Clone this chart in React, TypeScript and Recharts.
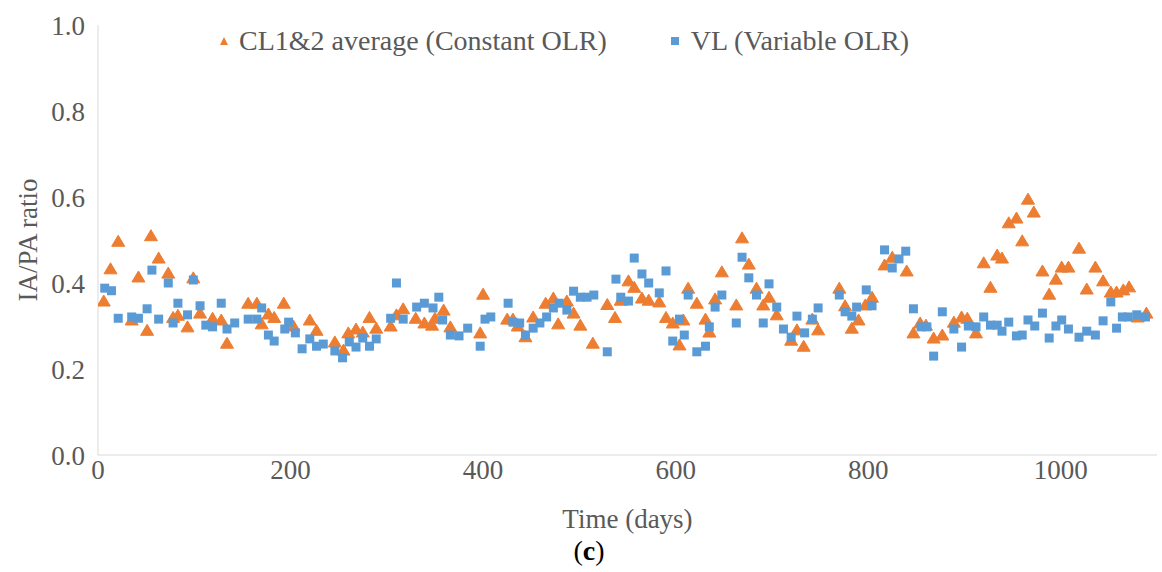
import { Label, Scatter, ScatterChart, XAxis, YAxis } from 'recharts'

const ORANGE = '#ED7D31'
const BLUE = '#5B9BD5'
const TEXT = '#595959'
const FONT = '"Liberation Serif", "Times New Roman", serif'

// CL1&2 average (Constant OLR)
const clDays = [
  6, 13, 21, 35, 42, 51, 55, 63, 73, 78, 83, 93, 99, 106, 119, 128, 134, 156, 165, 170,
  177, 183, 193, 203, 220, 227, 246, 255, 260, 268, 275, 282, 289, 304, 310, 317, 330, 339, 347, 350,
  359, 366, 397, 400, 425, 431, 436, 444, 452, 465, 473, 478, 487, 494, 501, 514, 529, 537, 543, 551,
  557, 565, 572, 583, 590, 597, 604, 608, 613, 622, 631, 635, 641, 648, 663, 669, 676, 684, 691, 697,
  705, 720, 726, 733, 742, 748, 770, 776, 783, 790, 797, 804, 817, 825, 840, 847, 854, 860, 868, 877,
  889, 897, 903, 912, 920, 927, 934, 939, 946, 954, 960, 966, 972, 981, 988, 995, 1001, 1008, 1019, 1027,
  1036, 1044, 1052, 1058, 1065, 1071, 1080, 1089,
]
const clRatio = [
  0.358, 0.433, 0.497, 0.314, 0.414, 0.29, 0.51, 0.458, 0.423, 0.32, 0.325, 0.298, 0.412, 0.33, 0.318, 0.314, 0.26, 0.353, 0.353, 0.305,
  0.328, 0.32, 0.353, 0.3, 0.314, 0.29, 0.263, 0.244, 0.284, 0.293, 0.286, 0.32, 0.295, 0.3, 0.326, 0.34, 0.318, 0.307, 0.302, 0.318,
  0.337, 0.298, 0.284, 0.374, 0.316, 0.316, 0.3, 0.275, 0.321, 0.353, 0.365, 0.305, 0.358, 0.33, 0.302, 0.26, 0.35, 0.32, 0.36, 0.405,
  0.39, 0.365, 0.36, 0.356, 0.32, 0.307, 0.256, 0.314, 0.388, 0.353, 0.316, 0.286, 0.363, 0.426, 0.349, 0.505, 0.444, 0.388, 0.349, 0.367,
  0.326, 0.267, 0.291, 0.253, 0.316, 0.291, 0.388, 0.347, 0.295, 0.314, 0.349, 0.367, 0.442, 0.46, 0.428, 0.284, 0.307, 0.302, 0.272, 0.279,
  0.309, 0.321, 0.318, 0.284, 0.447, 0.39, 0.465, 0.458, 0.54, 0.551, 0.498, 0.595, 0.565, 0.428, 0.374, 0.409, 0.437, 0.437, 0.481, 0.386,
  0.437, 0.405, 0.379, 0.379, 0.384, 0.391, 0.321, 0.33,
]

// VL (Variable OLR)
const vlDays = [
  7, 14, 21, 35, 42, 51, 56, 63, 73, 78, 83, 93, 99, 106, 112, 119, 128, 134, 142, 156,
  165, 170, 177, 183, 194, 198, 205, 212, 220, 227, 234, 246, 254, 261, 268, 275, 282, 289, 304, 310,
  317, 331, 339, 348, 354, 358, 366, 375, 384, 397, 402, 408, 426, 431, 438, 444, 452, 459, 466, 473,
  479, 487, 494, 501, 508, 515, 529, 538, 543, 551, 557, 565, 572, 583, 590, 597, 604, 609, 613, 622,
  631, 635, 641, 648, 663, 669, 676, 684, 691, 697, 705, 712, 720, 726, 734, 742, 748, 770, 776, 783,
  788, 798, 804, 817, 825, 832, 839, 847, 855, 861, 868, 877, 889, 897, 904, 912, 920, 927, 934, 939,
  946, 954, 960, 966, 973, 981, 988, 995, 1001, 1008, 1019, 1027, 1036, 1044, 1052, 1058, 1064, 1070, 1079, 1088,
]
const vlRatio = [
  0.388, 0.382, 0.318, 0.321, 0.318, 0.34, 0.43, 0.316, 0.4, 0.307, 0.353, 0.326, 0.407, 0.347, 0.302, 0.298, 0.353, 0.293, 0.307, 0.316,
  0.316, 0.342, 0.279, 0.265, 0.293, 0.309, 0.284, 0.247, 0.27, 0.253, 0.258, 0.242, 0.226, 0.263, 0.251, 0.272, 0.253, 0.27, 0.318, 0.4,
  0.316, 0.344, 0.353, 0.342, 0.367, 0.314, 0.279, 0.277, 0.295, 0.253, 0.316, 0.321, 0.353, 0.309, 0.307, 0.279, 0.295, 0.307, 0.321, 0.342,
  0.353, 0.337, 0.381, 0.367, 0.367, 0.372, 0.24, 0.409, 0.367, 0.358, 0.458, 0.421, 0.4, 0.377, 0.428, 0.265, 0.316, 0.279, 0.372, 0.24,
  0.253, 0.298, 0.344, 0.372, 0.307, 0.46, 0.412, 0.372, 0.307, 0.398, 0.344, 0.293, 0.274, 0.323, 0.284, 0.316, 0.342, 0.372, 0.333, 0.323,
  0.344, 0.384, 0.347, 0.477, 0.435, 0.456, 0.474, 0.34, 0.298, 0.298, 0.23, 0.333, 0.293, 0.251, 0.3, 0.298, 0.321, 0.302, 0.302, 0.288,
  0.309, 0.277, 0.279, 0.314, 0.3, 0.33, 0.272, 0.3, 0.314, 0.293, 0.274, 0.288, 0.279, 0.312, 0.356, 0.295, 0.321, 0.321, 0.326, 0.321,
]

const xTicks = [0, 200, 400, 600, 800, 1000]
const yTicks = [0, 0.2, 0.4, 0.6, 0.8, 1.0]

const clData = clDays.map((day, i) => ({ day, ratio: clRatio[i] }))
const vlData = vlDays.map((day, i) => ({ day, ratio: vlRatio[i] }))

const Triangle = (p: any) => (
  <path
    d={`M${p.cx},${p.cy - 6}L${p.cx + 6.5},${p.cy + 5}L${p.cx - 6.5},${p.cy + 5}Z`}
    fill={ORANGE}
    stroke={ORANGE}
    strokeWidth={1}
    strokeLinejoin="round"
  />
)

const Square = (p: any) => (
  <rect x={p.cx - 4.5} y={p.cy - 4.5} width={9} height={9} fill={BLUE} />
)

export default function App() {
  return (
    <div style={{ position: 'relative', width: 1162, height: 572, fontFamily: FONT }}>
      <style>{'body{margin:0}'}</style>
      <ScatterChart width={1162} height={572} margin={{ top: 25, right: 5, bottom: 87, left: 0 }}>
        <XAxis
          type="number"
          dataKey="day"
          domain={[0, 1100]}
          ticks={xTicks}
          allowDataOverflow
          height={30}
          stroke="#d9d9d9"
          tickLine={false}
          tickSize={0}
          tickMargin={5}
          tick={{ fill: TEXT, fontSize: 27, fontFamily: FONT }}
        >
          <Label
            content={({ viewBox }: any) => (
              <g fontFamily={FONT}>
                <text x={viewBox.x + viewBox.width / 2} y={viewBox.y + 73} textAnchor="middle" fontSize={27} fill={TEXT}>
                  Time (days)
                </text>
                <text x={589} y={viewBox.y + 105} textAnchor="middle" fontSize={28} fill="#000">
                  (<tspan fontWeight="bold">c</tspan>)
                </text>
              </g>
            )}
          />
        </XAxis>
        <YAxis
          type="number"
          dataKey="ratio"
          domain={[0, 1]}
          ticks={yTicks}
          width={98}
          stroke="#d9d9d9"
          tickLine={false}
          tickSize={0}
          tickMargin={13}
          tickFormatter={(v: number) => v.toFixed(1)}
          tick={{ fill: TEXT, fontSize: 27, fontFamily: FONT }}
        >
          <Label
            content={({ viewBox }: any) => {
              const x = 28
              const y = viewBox.y + viewBox.height / 2
              return (
                <text
                  x={x}
                  y={y}
                  transform={`rotate(-90 ${x} ${y})`}
                  textAnchor="middle"
                  dominantBaseline="central"
                  fontSize={27}
                  fontFamily={FONT}
                  fill={TEXT}
                >
                  IA/PA ratio
                </text>
              )
            }}
          />
        </YAxis>
        <Scatter name="CL1&2 average (Constant OLR)" data={clData} shape={Triangle} isAnimationActive={false} />
        <Scatter name="VL (Variable OLR)" data={vlData} shape={Square} isAnimationActive={false} />
      </ScatterChart>
      <div
        style={{
          position: 'absolute',
          top: 25,
          left: 219,
          display: 'flex',
          alignItems: 'center',
          fontSize: 28,
          color: TEXT,
          whiteSpace: 'nowrap',
        }}
      >
        <svg width={10} height={10} style={{ marginRight: 10 }}>
          <path d="M5,1L9,9L1,9Z" fill={ORANGE} />
        </svg>
        <span>CL1&amp;2 average (Constant OLR)</span>
        <svg width={8} height={8} style={{ marginLeft: 64, marginRight: 12 }}>
          <rect x={0} y={0} width={8} height={8} fill={BLUE} />
        </svg>
        <span>VL (Variable OLR)</span>
      </div>
    </div>
  )
}
